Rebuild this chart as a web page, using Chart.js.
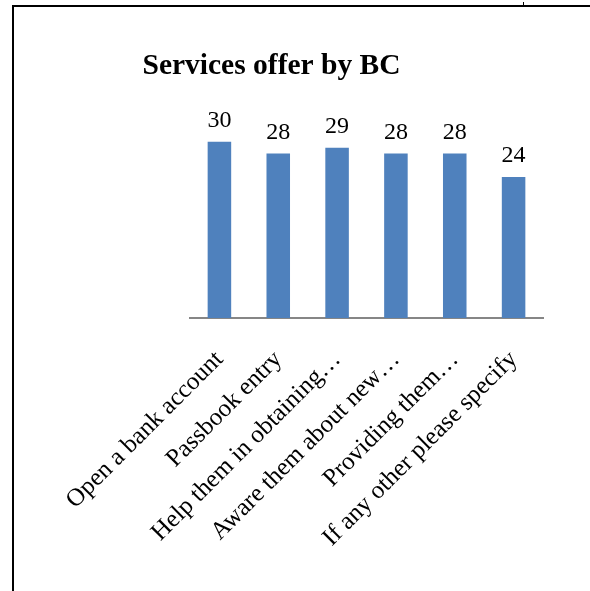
<!DOCTYPE html>
<html>
<head>
<meta charset="utf-8">
<script src="https://cdn.jsdelivr.net/npm/chart.js@4/dist/chart.umd.min.js"></script>
<style>
  html, body { margin: 0; padding: 0; background: #fff; overflow: hidden; }
  #wrap { position: relative; width: 590px; height: 591px; }
  #frame {
    position: absolute; left: 12px; top: 5px; width: 600px; height: 600px;
    border-top: 2px solid #000; border-left: 2px solid #000;
  }
  #mark { position: absolute; left: 523px; top: 2px; width: 1px; height: 3px; background: #000; }
  canvas { position: absolute; left: 0; top: 0; }
</style>
</head>
<body>
<div id="wrap">
  <div id="frame"></div>
  <div id="mark"></div>
  <canvas id="servicesChart" width="590" height="591"></canvas>
</div>
<script>
// categories and counts
const services = [
  'Open a bank account',
  'Passbook entry',
  'Help them in obtaining…',
  'Aware them about new…',
  'Providing them…',
  'If any other please specify'
];
const counts = [30, 28, 29, 28, 28, 24];

const serif = "'Liberation Serif', 'Times New Roman', serif";

// writes the count above each bar
const valueLabels = {
  id: 'valueLabels',
  afterDatasetsDraw(chart) {
    const ctx = chart.ctx;
    const meta = chart.getDatasetMeta(0);
    ctx.save();
    ctx.font = '24px ' + serif;
    ctx.fillStyle = '#000';
    ctx.textAlign = 'center';
    ctx.textBaseline = 'alphabetic';
    meta.data.forEach((bar, i) => {
      ctx.fillText(String(counts[i]), bar.x, bar.y - 15);
    });
    ctx.restore();
  }
};

const ctx = document.getElementById('servicesChart').getContext('2d');
new Chart(ctx, {
  type: 'bar',
  data: {
    labels: services,
    datasets: [{
      data: counts,
      backgroundColor: '#4F81BD',
      borderWidth: 0,
      barPercentage: 0.4,
      categoryPercentage: 1
    }]
  },
  options: {
    responsive: false,
    animation: false,
    layout: { padding: { left: 0, right: 47, top: 0, bottom: 43 } },
    plugins: {
      legend: { display: false },
      tooltip: { enabled: false },
      title: {
        display: true,
        text: 'Services offer by BC',
        color: '#000',
        font: { family: serif, size: 29.5, weight: 'bold' },
        padding: { top: 49, bottom: 28 }
      }
    },
    scales: {
      x: {
        grid: { display: false },
        border: { display: true, color: '#868686', width: 2 },
        ticks: {
          color: '#000',
          font: { family: serif, size: 25 },
          minRotation: 45,
          maxRotation: 45,
          autoSkip: false,
          padding: 19,
          labelOffset: 0
        },
        afterFit: (scale) => { scale.height = 230; }
      },
      y: {
        // kept as an empty left gutter so the title stays centred on the page
        display: true,
        min: 0,
        max: 35,
        grid: { display: false },
        border: { display: false },
        ticks: { display: false },
        afterFit: (scale) => { scale.width = 190; }
      }
    }
  },
  plugins: [valueLabels]
});
</script>
</body>
</html>
